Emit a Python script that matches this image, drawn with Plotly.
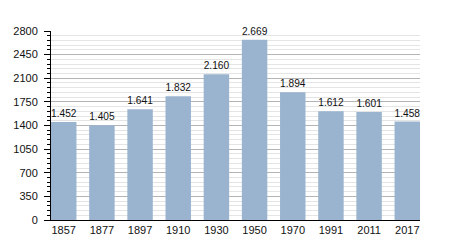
import plotly.graph_objects as go

years = ["1857", "1877", "1897", "1910", "1930", "1950", "1970", "1991", "2011", "2017"]
population = [1452, 1405, 1641, 1832, 2160, 2669, 1894, 1612, 1601, 1458]
labels = ["1.452", "1.405", "1.641", "1.832", "2.160", "2.669", "1.894", "1.612", "1.601", "1.458"]
y_ticks = [0, 350, 700, 1050, 1400, 1750, 2100, 2450, 2800]

w = 0.667
xs = list(range(len(years)))

fig = go.Figure(go.Bar(
    x=xs, y=population, width=w,
    marker=dict(color="#9ab3cf", line=dict(width=0)),
    text=labels, textposition="outside", cliponaxis=False,
    textfont=dict(family="Liberation Sans, Arial, sans-serif", size=11, color="#111"),
))

fig.update_layout(
    width=450, height=250,
    margin=dict(l=51, r=30, t=31, b=30),
    paper_bgcolor="white", plot_bgcolor="white",
    showlegend=False,
    font=dict(family="Liberation Sans, Arial, sans-serif", size=11, color="#111"),
)
fig.update_xaxes(
    range=[-w / 2, len(years) - 1 + w / 2],
    tickmode="array", tickvals=xs, ticktext=years,
    showline=True, linecolor="#000", linewidth=1,
    ticks="", showgrid=False, zeroline=False,
)
fig.update_yaxes(
    range=[0, 2800], tickmode="array", tickvals=y_ticks,
    showline=True, linecolor="#000", linewidth=1,
    ticks="outside", ticklen=6, tickcolor="#000", tickwidth=1,
    ticklabelstandoff=4,
    showgrid=True, gridcolor="#b4b4b4", gridwidth=1,
    zeroline=False,
    minor=dict(dtick=70, tick0=0, showgrid=True, gridcolor="#e4e4e4",
               ticks="outside", ticklen=3, tickcolor="#000"),
)

fig.write_html("out.html")
